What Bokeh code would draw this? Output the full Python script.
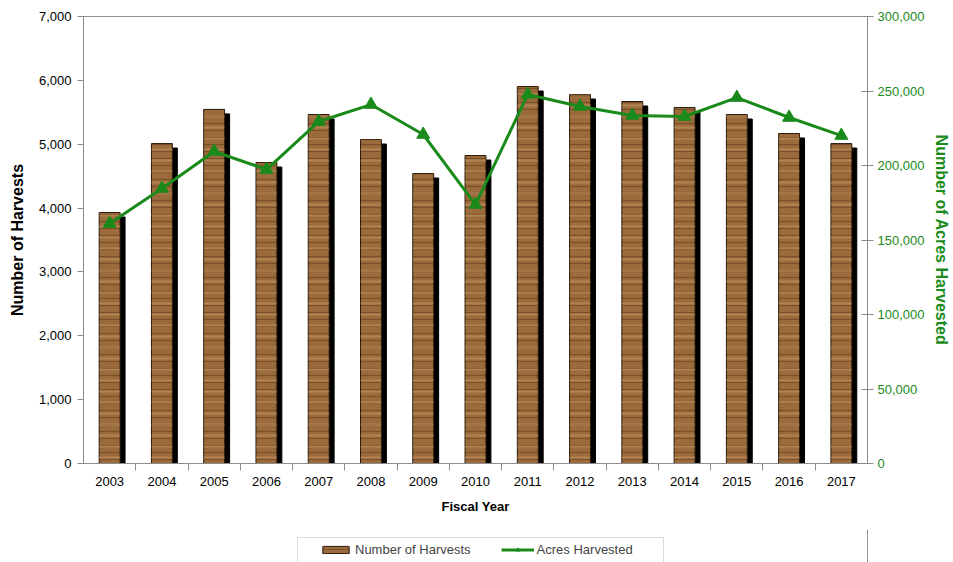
from bokeh.plotting import figure
from bokeh.models import (ColumnDataSource, Range1d, LinearAxis, FixedTicker,
                          NumeralTickFormatter, Legend, LegendItem, BoxAnnotation)
from bokeh.layouts import column
from bokeh.transform import dodge
from bokeh.embed import file_html
from bokeh.resources import INLINE

years = [2003, 2004, 2005, 2006, 2007, 2008, 2009, 2010, 2011, 2012, 2013, 2014, 2015, 2016, 2017]
harvests = [3930, 5010, 5545, 4713, 5465, 5073, 4541, 4823, 5903, 5778, 5669, 5575, 5465, 5168, 5010]
acres = [161000, 184600, 209400, 197300, 229500, 240900, 220800, 173800, 247700, 239600, 233600, 232900, 245600, 232200, 220100]
left_ticks = [0, 1000, 2000, 3000, 4000, 5000, 6000, 7000]
right_ticks = [0, 50000, 100000, 150000, 200000, 250000, 300000]

FONT = "Liberation Sans"
GREEN = "#1a8a1a"
AXIS_GRAY = "#8c8c8c"

src = ColumnDataSource(dict(
    year=years,
    harvests=harvests,
    shadow_top=[h - 70 for h in harvests],
    acres=acres,
))

BAR_STYLE = dict(fill_color="#9c6b3c", line_color="#2a1a0a", line_width=1,
                 hatch_pattern="horizontal_line", hatch_color="#5e3a1a",
                 hatch_scale=7, hatch_weight=1.2, hatch_alpha=0.55)

p = figure(width=953, height=530, output_backend="svg", toolbar_location=None,
           x_range=Range1d(years[0] - 0.5, years[-1] + 0.5),
           y_range=Range1d(0, 7000),
           min_border_left=83, min_border_right=85, min_border_top=16, min_border_bottom=67)
p.extra_y_ranges = {"acres": Range1d(0, 300000)}

p.xgrid.grid_line_color = None
p.ygrid.grid_line_color = None
p.outline_line_color = AXIS_GRAY
p.outline_line_width = 1
p.background_fill_color = "white"
p.border_fill_color = "white"

# Shadow bars
p.vbar(x=dodge("year", 0.095, range=p.x_range), top="shadow_top", bottom=0, width=0.4,
       source=src, fill_color="black", line_color="black")
# Wood-like bars
p.vbar(x="year", top="harvests", width=0.4, source=src, **BAR_STYLE)
p.vbar(x="year", top="harvests", width=0.4, source=src,
       fill_color=None, line_color=None,
       hatch_pattern="horizontal_line", hatch_color="#c9a06a",
       hatch_scale=11, hatch_weight=2, hatch_alpha=0.45)

p.line(x="year", y="acres", y_range_name="acres", source=src,
       line_color=GREEN, line_width=3)
p.scatter(x="year", y="acres", y_range_name="acres", source=src,
          marker="triangle", size=13, fill_color=GREEN, line_color=GREEN)

# x axis
xa = p.xaxis[0]
xa.ticker = FixedTicker(ticks=years, minor_ticks=[y + 0.5 for y in years[:-1]])
xa.major_tick_line_color = None
xa.minor_tick_line_color = AXIS_GRAY
xa.minor_tick_out = 7
xa.minor_tick_in = 0
xa.axis_line_color = AXIS_GRAY
xa.major_label_text_font = FONT
xa.major_label_text_font_size = "13px"
xa.major_label_text_color = "black"
xa.major_label_standoff = 6
xa.axis_label = "Fiscal Year"
xa.axis_label_text_font = FONT
xa.axis_label_text_font_style = "bold"
xa.axis_label_text_font_size = "13px"
xa.axis_label_text_color = "black"
xa.axis_label_standoff = 10

# left axis
ya = p.yaxis[0]
ya.ticker = FixedTicker(ticks=left_ticks)
ya.formatter = NumeralTickFormatter(format="0,0")
ya.axis_line_color = AXIS_GRAY
ya.major_tick_line_color = AXIS_GRAY
ya.major_tick_in = 0
ya.major_tick_out = 6
ya.minor_tick_line_color = None
ya.major_label_text_font = FONT
ya.major_label_text_font_size = "13px"
ya.major_label_text_color = "black"
ya.major_label_standoff = 6
ya.axis_label = "Number of Harvests"
ya.axis_label_text_font = FONT
ya.axis_label_text_font_style = "bold"
ya.axis_label_text_font_size = "16px"
ya.axis_label_text_color = "black"
ya.axis_label_standoff = 10

# right axis
ra = LinearAxis(y_range_name="acres", ticker=FixedTicker(ticks=right_ticks),
                formatter=NumeralTickFormatter(format="0,0"))
ra.axis_line_color = AXIS_GRAY
ra.major_tick_line_color = AXIS_GRAY
ra.major_tick_in = 6
ra.major_tick_out = 6
ra.minor_tick_line_color = None
ra.major_label_text_font = FONT
ra.major_label_text_font_size = "13px"
ra.major_label_text_color = GREEN
ra.major_label_standoff = 4
ra.axis_label = "Number of Acres Harvested"
ra.axis_label_text_font = FONT
ra.axis_label_text_font_style = "bold"
ra.axis_label_text_font_size = "16px"
ra.axis_label_text_color = GREEN
ra.axis_label_standoff = 6
p.add_layout(ra, "right")

# Legend strip below the chart (its own renderers are out of view; only swatches show)
lg = figure(width=953, height=32, output_backend="svg", toolbar_location=None,
            x_range=Range1d(0, 1), y_range=Range1d(0, 1),
            x_axis_type=None, y_axis_type=None,
            min_border_left=0, min_border_right=0, min_border_top=0, min_border_bottom=0)
lg.xgrid.grid_line_color = None
lg.ygrid.grid_line_color = None
lg.outline_line_color = None
lg.background_fill_color = "white"
lg.border_fill_color = "white"
lg_bar = lg.vbar(x="year", top="harvests", width=0.4, source=src, **BAR_STYLE)
lg_line = lg.line(x="year", y="acres", source=src, line_color=GREEN, line_width=3)
lg_mark = lg.scatter(x="year", y="acres", source=src, marker="triangle", size=9,
                     fill_color=GREEN, line_color=GREEN)

# white cover for a stray edge line at the right of the strip
lg.add_layout(BoxAnnotation(left=760, right=800, bottom=-10, top=40,
                            left_units="screen", right_units="screen",
                            bottom_units="screen", top_units="screen",
                            fill_color="white", fill_alpha=1, line_color=None))
lg.add_layout(BoxAnnotation(left=214, right=580, bottom=-10, top=25,
                            left_units="screen", right_units="screen",
                            bottom_units="screen", top_units="screen",
                            fill_color=None, line_color=AXIS_GRAY, line_width=1))

legend = Legend(items=[LegendItem(label="Number of Harvests", renderers=[lg_bar]),
                       LegendItem(label="Acres Harvested", renderers=[lg_line, lg_mark])],
                orientation="horizontal", location=(236, 5),
                label_text_font=FONT, label_text_font_size="13px",
                label_standoff=3, border_line_color=None, border_line_alpha=0,
                glyph_width=33, glyph_height=9, background_fill_alpha=0,
                spacing=30, padding=6, margin=0)
lg.add_layout(legend)

open("out.html", "w").write(file_html(column(p, lg, spacing=0), INLINE))
